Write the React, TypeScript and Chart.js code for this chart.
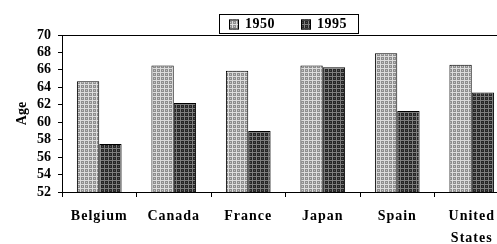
import React, { useEffect, useRef } from "react";
import { Chart, registerables } from "chart.js";

Chart.register(...registerables);

const categories: (string | string[])[] = ["Belgium", "Canada", "France", "Japan", "Spain", ["United", "States"]];
const seriesLabels = ["1950", "1995"];
const values1950 = [64.7, 66.5, 65.9, 66.5, 67.9, 66.6];
const values1995 = [57.5, 62.2, 59.0, 66.3, 61.3, 63.4];
const yTicks = [52, 54, 56, 58, 60, 62, 64, 66, 68, 70];
const yTitle = "Age";

const FONT = "'Liberation Serif', 'DejaVu Serif', serif";

function makePattern(bg: string, line: string, dot: string): CanvasPattern | string {
  const c = document.createElement("canvas");
  c.width = 4;
  c.height = 4;
  const g = c.getContext("2d");
  if (!g) return bg;
  g.fillStyle = bg;
  g.fillRect(0, 0, 4, 4);
  g.fillStyle = line;
  g.fillRect(0, 0, 4, 1);
  g.fillRect(0, 0, 1, 4);
  g.fillStyle = dot;
  g.fillRect(2, 2, 1, 1);
  const p = g.createPattern(c, "repeat");
  return p || bg;
}

const legendPlugin = {
  id: "boxLegend",
  afterDraw(chart: any) {
    const ctx = chart.ctx;
    const bx = 219, by = 14, bw = 139, bh = 19;
    ctx.save();
    ctx.strokeStyle = "#000";
    ctx.lineWidth = 1;
    ctx.strokeRect(bx + 0.5, by + 0.5, bw, bh);
    ctx.font = `bold 14px ${FONT}`;
    ctx.textBaseline = "middle";
    try { (ctx as any).letterSpacing = "0.5px"; } catch (e) {}
    const xs = [229, 301];
    chart.data.datasets.forEach((ds: any, i: number) => {
      const x = xs[i];
      const y = by + bh / 2 + 1;
      ctx.fillStyle = ds.backgroundColor;
      ctx.fillRect(x, y - 5, 10, 10);
      ctx.strokeStyle = "#000";
      ctx.strokeRect(x + 0.5, y - 4.5, 9, 9);
      ctx.fillStyle = "#000";
      ctx.textAlign = "left";
      ctx.fillText(ds.label, x + 16, y);
    });
    ctx.restore();
  },
};

export default function App() {
  const ref = useRef<HTMLCanvasElement>(null);
  useEffect(() => {
    if (!ref.current) return;
    const p1 = makePattern("#8e8e8e", "#dcdcdc", "#c4c4c4");
    const p2 = makePattern("#262626", "#7e7e7e", "#4e4e4e");
    const chart = new Chart(ref.current, {
      type: "bar",
      data: {
        labels: categories as any,
        datasets: [
          { label: seriesLabels[0], data: values1950, backgroundColor: p1 as any, borderColor: "#000", borderWidth: 1, categoryPercentage: 0.6, barPercentage: 1 },
          { label: seriesLabels[1], data: values1995, backgroundColor: p2 as any, borderColor: "#000", borderWidth: 1, categoryPercentage: 0.6, barPercentage: 1 },
        ],
      },
      options: {
        animation: false,
        responsive: false,
        maintainAspectRatio: false,
        layout: { padding: { top: 35, right: 10, left: 0, bottom: 0 } },
        plugins: { legend: { display: false }, tooltip: { enabled: false } },
        scales: {
          x: {
            grid: { display: true, drawOnChartArea: false, color: "#000", tickLength: 5, offset: true },
            border: { display: true, color: "#000", width: 1 },
            ticks: { color: "#000", font: { family: FONT, size: 14, weight: "bold", lineHeight: 1.57 }, padding: 8, maxRotation: 0, autoSkip: false },
            afterFit: (s: any) => {
              s.height = 52;
              if (!s.__wrapped) {
                s.__wrapped = true;
                const orig = s.drawLabels;
                s.drawLabels = function (area: any) {
                  const ctx = this.ctx;
                  ctx.save();
                  try { ctx.letterSpacing = "1px"; } catch (e) {}
                  orig.call(this, area);
                  ctx.restore();
                };
              }
            },
          },
          y: {
            min: 52,
            max: 70,
            afterBuildTicks: (s: any) => { s.ticks = yTicks.map((v) => ({ value: v })); },
            grid: {
              drawOnChartArea: true,
              color: (c: any) => (c.tick && c.tick.value === 70 ? "#000" : "rgba(0,0,0,0)"),
              tickColor: "#000",
              tickLength: 4,
            },
            border: { display: true, color: "#000", width: 1 },
            ticks: { color: "#000", font: { family: FONT, size: 14, weight: "bold" }, padding: 7, autoSkip: false },
            title: { display: true, text: yTitle, color: "#000", font: { family: FONT, size: 14, weight: "bold" }, padding: { top: 14, bottom: 0 } },
            afterFit: (s: any) => { s.width = 62; },
          },
        },
      },
      plugins: [legendPlugin],
    });
    return () => chart.destroy();
  }, []);
  return (
    <div style={{ position: "fixed", left: 0, top: 0, width: 497, height: 244, overflow: "hidden", background: "#fff" }}>
      <canvas ref={ref} width={519} height={244} style={{ display: "block" }} />
    </div>
  );
}
